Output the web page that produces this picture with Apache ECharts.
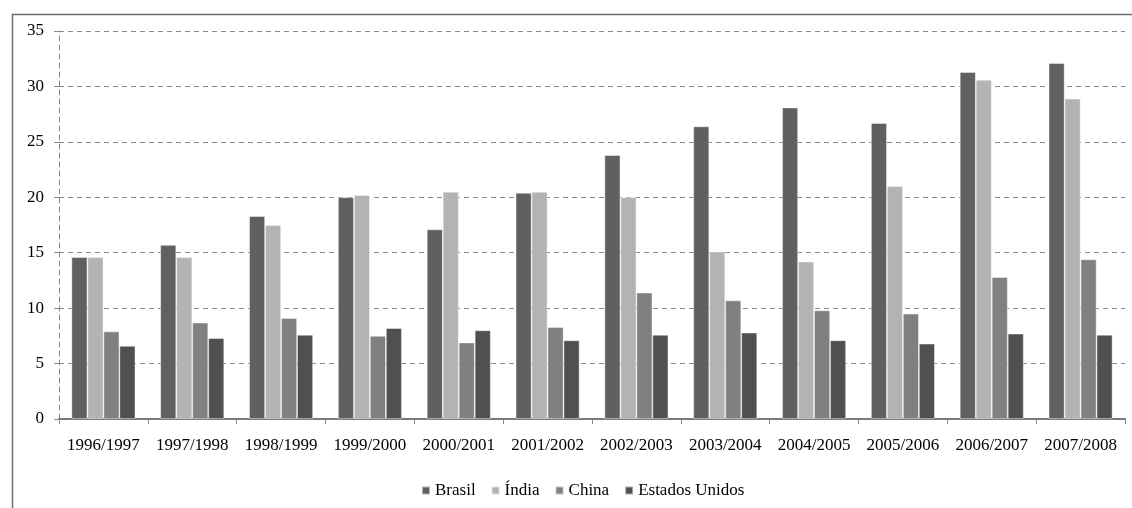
<!DOCTYPE html>
<html>
<head>
<meta charset="utf-8">
<script src="https://cdn.jsdelivr.net/npm/echarts@6/dist/echarts.min.js"></script>
<style>
  html, body { margin: 0; padding: 0; background: #ffffff; }
  #chart { width: 1132px; height: 508px; }
</style>
</head>
<body>
<div id="chart"></div>
<script>
// Safras agrícolas (eixo das categorias)
const categories = ['1996/1997', '1997/1998', '1998/1999', '1999/2000', '2000/2001', '2001/2002',
                    '2002/2003', '2003/2004', '2004/2005', '2005/2006', '2006/2007', '2007/2008'];

// Valores por país
const brasil        = [14.6, 15.7, 18.3, 20.0, 17.1, 20.4, 23.8, 26.4, 28.1, 26.7, 31.3, 32.1];
const india         = [14.6, 14.6, 17.5, 20.2, 20.5, 20.5, 20.0, 15.1, 14.2, 21.0, 30.6, 28.9];
const china         = [7.9, 8.7, 9.1, 7.5, 6.9, 8.3, 11.4, 10.7, 9.8, 9.5, 12.8, 14.4];
const estadosUnidos = [6.6, 7.3, 7.6, 8.2, 8.0, 7.1, 7.6, 7.8, 7.1, 6.8, 7.7, 7.6];

const seriesNames = ['Brasil', 'Índia', 'China', 'Estados Unidos'];
const seriesColors = ['#606060', '#b3b3b3', '#808080', '#505050'];
const seriesData = [brasil, india, china, estadosUnidos];

const FONT = 'Liberation Serif';

const chart = echarts.init(document.getElementById('chart'), null, { renderer: 'canvas' });

chart.setOption({
  animation: false,
  backgroundColor: '#ffffff',
  color: seriesColors,
  graphic: [{
    type: 'rect',
    left: 10,
    top: 12,
    shape: { x: 0, y: 0, width: 1200, height: 600 },
    style: { fill: 'none', stroke: '#6e6e6e', lineWidth: 1.5 },
    silent: true,
    z: 0
  }],
  grid: { left: 59, right: 7, top: 31, bottom: 89, containLabel: false },
  legend: {
    data: seriesNames,
    left: 416,
    top: 477,
    icon: 'rect',
    itemWidth: 8,
    itemHeight: 8,
    itemGap: 15,
    textStyle: { fontFamily: FONT, fontSize: 17, color: '#000000' }
  },
  xAxis: {
    type: 'category',
    data: categories,
    boundaryGap: true,
    axisLine: { show: true, lineStyle: { color: '#7a7a7a', width: 2 } },
    axisTick: { show: true, length: 5, alignWithLabel: false, lineStyle: { color: '#868686', width: 1 } },
    axisLabel: { fontFamily: FONT, fontSize: 17, color: '#000000', margin: 18, interval: 0 },
    splitLine: { show: false }
  },
  yAxis: {
    type: 'value',
    min: 0,
    max: 35,
    interval: 5,
    axisLine: { show: true, lineStyle: { color: '#868686', width: 1, type: [5, 4] } },
    axisTick: { show: true, length: 5, lineStyle: { color: '#868686', width: 1 } },
    axisLabel: { fontFamily: FONT, fontSize: 17, color: '#000000', margin: 15 },
    splitLine: { show: true, lineStyle: { color: '#8a8a8a', width: 1, type: [5, 4] } }
  },
  series: seriesNames.map((name, i) => ({
    name: name,
    type: 'bar',
    data: seriesData[i],
    barGap: '0%',
    barCategoryGap: '28%',
    itemStyle: { color: seriesColors[i], borderColor: 'rgba(255,255,255,0.55)', borderWidth: 0.8 },
    z: 2
  }))
});
</script>
</body>
</html>
